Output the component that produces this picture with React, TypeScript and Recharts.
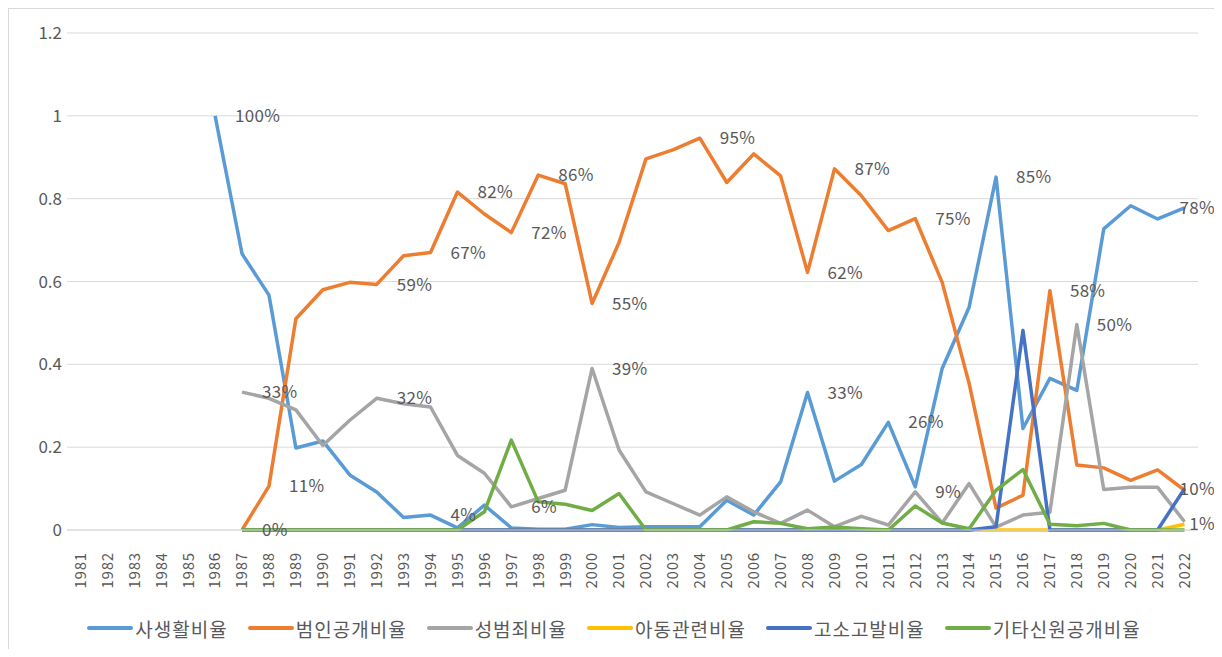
import React from 'react';
import { LineChart, Line, XAxis, YAxis, CartesianGrid, Legend, LabelList } from 'recharts';

const years = [
  '1981','1982','1983','1984','1985','1986','1987','1988','1989','1990',
  '1991','1992','1993','1994','1995','1996','1997','1998','1999','2000',
  '2001','2002','2003','2004','2005','2006','2007','2008','2009','2010',
  '2011','2012','2013','2014','2015','2016','2017','2018','2019','2020',
  '2021','2022',
];

// 사생활비율
const privacy = [
  null, null, null, null, null, 1.0, 0.667, 0.567, 0.198, 0.215,
  0.133, 0.092, 0.03, 0.036, 0.005, 0.06, 0.005, 0.002, 0.002, 0.013,
  0.006, 0.008, 0.008, 0.008, 0.072, 0.036, 0.116, 0.332, 0.118, 0.158,
  0.26, 0.104, 0.39, 0.538, 0.852, 0.245, 0.366, 0.337, 0.727, 0.783,
  0.751, 0.778,
];
// 범인공개비율
const offender = [
  null, null, null, null, null, null, 0, 0.106, 0.51, 0.58,
  0.598, 0.593, 0.662, 0.67, 0.816, 0.763, 0.718, 0.857, 0.836, 0.547,
  0.694, 0.896, 0.918, 0.946, 0.839, 0.908, 0.855, 0.622, 0.872, 0.807,
  0.723, 0.752, 0.598, 0.354, 0.053, 0.084, 0.578, 0.157, 0.15, 0.12,
  0.145, 0.096,
];
// 성범죄비율
const sexCrime = [
  null, null, null, null, null, null, 0.333, 0.318, 0.29, 0.204,
  0.265, 0.318, 0.305, 0.297, 0.18, 0.137, 0.056, 0.076, 0.096, 0.39,
  0.193, 0.092, 0.064, 0.036, 0.08, 0.044, 0.016, 0.048, 0.008, 0.033,
  0.012, 0.092, 0.017, 0.112, 0.007, 0.036, 0.043, 0.496, 0.098, 0.103,
  0.103, 0.02,
];
// 아동관련비율
const child = [
  null, null, null, null, null, null, 0, 0, 0, 0,
  0, 0, 0, 0, 0, 0, 0, 0, 0, 0,
  0, 0, 0, 0, 0, 0, 0, 0, 0, 0,
  0, 0, 0, 0, 0, 0, 0, 0, 0, 0,
  0, 0.014,
];
// 고소고발비율
const complaint = [
  null, null, null, null, null, null, 0, 0, 0, 0,
  0, 0, 0, 0, 0, 0, 0, 0, 0, 0,
  0, 0, 0, 0, 0, 0, 0, 0, 0, 0,
  0, 0, 0, 0, 0.008, 0.482, 0, 0, 0, 0,
  0, 0.1,
];
// 기타신원공개비율
const other = [
  null, null, null, null, null, null, 0, 0, 0, 0,
  0, 0, 0, 0, 0, 0.044, 0.217, 0.068, 0.062, 0.047,
  0.088, 0, 0, 0, 0, 0.02, 0.016, 0.003, 0.007, 0.003,
  0, 0.058, 0.017, 0.003, 0.096, 0.146, 0.014, 0.01, 0.016, 0,
  0, 0,
];

const yTicks = [0, 0.2, 0.4, 0.6, 0.8, 1, 1.2];

const seriesNames = ['사생활비율', '범인공개비율', '성범죄비율', '아동관련비율', '고소고발비율', '기타신원공개비율'];
const seriesKeys = ['privacy', 'offender', 'sexCrime', 'child', 'complaint', 'other'];
const seriesColors = ['#5B9BD5', '#ED7D31', '#A5A5A5', '#FFC000', '#4472C4', '#70AD47'];
const seriesValues = [privacy, offender, sexCrime, child, complaint, other];

// years whose data labels are shown, per series
const labeledYears: Record<string, string[]> = {
  privacy: ['1986', '1994', '2008', '2011', '2015', '2022'],
  offender: ['1987', '1988', '1992', '1994', '1995', '1997', '1998', '2000', '2004', '2008', '2009', '2012', '2017'],
  sexCrime: ['1987', '1992', '1997', '2000', '2012', '2018'],
  child: ['2022'],
  complaint: ['2022'],
  other: [],
};

const data = years.map((y, i) => {
  const row: Record<string, any> = { year: y };
  seriesKeys.forEach((k, j) => {
    row[k] = seriesValues[j][i];
  });
  return row;
});

const FONT = '"Noto Sans CJK KR", "Noto Sans", sans-serif';
const TEXT = '#595959';
const CHART_W = 1210;
const CHART_H = 640;

const XTick = (props: any) => {
  const { x, y, payload } = props;
  return (
    <text
      x={x}
      y={y}
      transform={`rotate(-90 ${x} ${y})`}
      textAnchor="end"
      dy="0.36em"
      fill={TEXT}
      fontSize={15}
      fontFamily={FONT}
      letterSpacing={0.8}
    >
      {payload.value}
    </text>
  );
};

const makeLabel = (key: string) => (props: any) => {
  const { x, y, value, index } = props;
  if (value == null || x == null || y == null) return null;
  if (!labeledYears[key].includes(years[index])) return null;
  const last = index === years.length - 1;
  return (
    <text
      key={`${key}-${index}`}
      x={last ? CHART_W - 4 : x + 20}
      y={y}
      dy="0.36em"
      textAnchor={last ? 'end' : 'start'}
      fill={TEXT}
      fontSize={17}
      fontFamily={FONT}
      letterSpacing={0.3}
    >
      {`${Math.round(value * 100)}%`}
    </text>
  );
};

const LegendContent = () => (
  <div
    style={{
      height: 30,
      display: 'flex',
      justifyContent: 'center',
      alignItems: 'center',
      fontFamily: FONT,
      fontSize: 19,
      letterSpacing: 1,
      color: TEXT,
    }}
  >
    {seriesNames.map((n, i) => (
      <div key={n} style={{ display: 'flex', alignItems: 'center', marginRight: i < seriesNames.length - 1 ? 20 : 0 }}>
        <span style={{ display: 'inline-block', width: 46, height: 4, background: seriesColors[i], borderRadius: 2, marginRight: 2 }} />
        <span>{n}</span>
      </div>
    ))}
  </div>
);

export default function App() {
  return (
    <div
      style={{
        width: CHART_W,
        height: CHART_H,
        borderTop: '1px solid #d9d9d9',
        borderLeft: '1px solid #d9d9d9',
        borderRight: '1px solid #d9d9d9',
        background: '#fff',
      }}
    >
      <LineChart
        width={CHART_W}
        height={CHART_H}
        data={data}
        margin={{ top: 24, right: 21, left: 0, bottom: 29 }}
      >
        <CartesianGrid vertical={false} stroke="#d9d9d9" strokeWidth={1} />
        <XAxis
          dataKey="year"
          scale="band"
          interval={0}
          height={60}
          tickSize={0}
          tickMargin={22}
          tickLine={false}
          axisLine={{ stroke: '#d9d9d9' }}
          tick={<XTick />}
        />
        <YAxis
          width={58}
          domain={[0, 1.2]}
          ticks={yTicks}
          tickFormatter={(v: number) => String(v)}
          axisLine={false}
          tickLine={false}
          tickSize={0}
          tickMargin={5}
          tick={{ fill: TEXT, fontSize: 17, fontFamily: FONT }}
          interval={0}
        />
        <Legend
          verticalAlign="bottom"
          content={<LegendContent />}
          wrapperStyle={{ top: 604, left: 0, width: CHART_W, bottom: 'auto' }}
        />
        {seriesKeys.map((k, i) => (
          <Line
            key={k}
            type="linear"
            dataKey={k}
            name={seriesNames[i]}
            stroke={seriesColors[i]}
            strokeWidth={3.5}
            strokeLinejoin="round"
            dot={false}
            activeDot={false}
            isAnimationActive={false}
          >
            <LabelList dataKey={k} content={makeLabel(k)} />
          </Line>
        ))}
      </LineChart>
    </div>
  );
}
